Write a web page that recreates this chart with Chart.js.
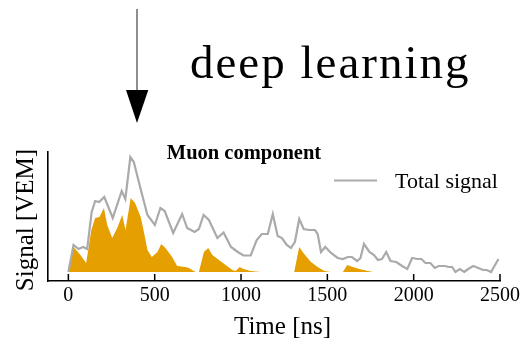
<!DOCTYPE html>
<html>
<head>
<meta charset="utf-8">
<script src="https://cdn.jsdelivr.net/npm/chart.js@4.4.0/dist/chart.umd.min.js"></script>
<style>
    html, body { margin: 0; padding: 0; background: #fff; }
    #wrap { width: 525px; height: 339px; }
</style>
</head>
<body>
<div id="wrap"><canvas id="trace" width="525" height="339"></canvas></div>
<script>

// total signal trace (grey line), time in ns
var totalTime = [0, 30, 59, 85, 109, 135, 155, 178, 208, 257,
    309, 330, 359, 379, 417, 458, 501, 533, 558, 607,
    659, 688, 731, 756, 783, 814, 863, 899, 942, 981,
    1014, 1056, 1091, 1120, 1155, 1184, 1212, 1237, 1265, 1289,
    1312, 1337, 1363, 1395, 1428, 1444, 1463, 1488, 1521, 1560,
    1590, 1619, 1642, 1673, 1692, 1712, 1744, 1770, 1793, 1816,
    1841, 1866, 1899, 1933, 1963, 1991, 2022, 2045, 2068, 2097,
    2122, 2145, 2180, 2203, 2223, 2242, 2267, 2293, 2316, 2345,
    2374, 2403, 2423, 2448, 2491];
var totalSignal = [0, 27, 23, 25, 23, 60, 71, 70, 75, 54,
    81, 73, 115, 110, 84, 57, 47, 64, 61, 39,
    58, 44, 40, 43, 57, 52, 34, 39.5, 25, 20,
    16.5, 16.5, 32, 38, 38, 58, 36, 34, 27, 24,
    30, 53, 43, 42, 42, 38, 20, 25, 19, 14,
    13, 15, 15, 11, 14, 28, 20, 17, 12, 13,
    20, 11, 10, 6, 3, 14, 13, 13, 9, 9,
    4, 6, 6, 5, 5, 0, 3, 0, 3, 6,
    4, 2, 2, 0, 13];

// muon component (orange area)
var muonTime = [0, 30, 70, 103, 133, 155, 180, 206, 225, 254,
    283, 312, 331, 361, 386, 419, 440, 458, 483, 516,
    538, 562, 601, 630, 678, 698, 737, 756, 785, 810,
    834, 872, 911, 950, 969, 992, 1014, 1056, 1115, 1308,
    1337, 1366, 1405, 1444, 1483, 1521, 1590, 1615, 1648, 1686,
    1735, 1765, 1830];
var muonSignal = [0, 25, 17, 9, 42, 54, 55, 64, 47, 34,
    44, 57, 42, 74, 69, 55, 38, 22, 15, 20,
    28, 24, 15, 6, 5, 4, 0, 0, 20, 24,
    17, 12, 7, 2, 1, 5, 3, 1, 0, 0,
    25, 18, 10, 5, 1, 0, 0, 7, 5, 3,
    1, 0, 0];

var tickValues = [0, 500, 1000, 1500, 2000, 2500];

var serif = '"Liberation Serif", "Times New Roman", serif';
var grey = '#aaaaaa';
var orange = '#e69f00';

function toPoints(xs, ys) {
    return xs.map(function (x, i) { return { x: x, y: ys[i] }; });
}

// texts, arrow and inward ticks
var overlay = {
    id: 'overlay',
    afterDraw: function (chart) {
        var ctx = chart.ctx;
        var xs = chart.scales.x;
        var area = chart.chartArea;
        ctx.save();

        // ticks pointing into the plot
        ctx.strokeStyle = '#000';
        ctx.lineWidth = 1.5;
        tickValues.forEach(function (v) {
            var px = xs.getPixelForValue(v);
            ctx.beginPath();
            ctx.moveTo(px, area.bottom);
            ctx.lineTo(px, area.bottom - 7);
            ctx.stroke();
        });

        // arrow
        ctx.strokeStyle = '#444';
        ctx.lineWidth = 1.2;
        ctx.beginPath();
        ctx.moveTo(137, 9);
        ctx.lineTo(137, 92);
        ctx.stroke();
        ctx.fillStyle = '#000';
        ctx.beginPath();
        ctx.moveTo(126, 90);
        ctx.lineTo(148.3, 90);
        ctx.lineTo(137, 123);
        ctx.closePath();
        ctx.fill();

        ctx.fillStyle = '#000';
        ctx.textBaseline = 'alphabetic';

        // headline
        ctx.font = '47px ' + serif;
        ctx.textAlign = 'left';
        if ('letterSpacing' in ctx) ctx.letterSpacing = '2px';
        ctx.fillText('deep learning', 190, 78);
        if ('letterSpacing' in ctx) ctx.letterSpacing = '0px';

        // title
        ctx.font = 'bold 20.5px ' + serif;
        ctx.textAlign = 'center';
        ctx.fillText('Muon component', 244, 159);

        // legend
        ctx.strokeStyle = grey;
        ctx.lineWidth = 2;
        ctx.beginPath();
        ctx.moveTo(334, 180.5);
        ctx.lineTo(377, 180.5);
        ctx.stroke();
        ctx.font = '22px ' + serif;
        ctx.textAlign = 'left';
        ctx.fillText('Total signal', 395, 188);

        // axis titles
        ctx.font = '25px ' + serif;
        ctx.textAlign = 'center';
        ctx.fillText('Time [ns]', 282.5, 334);
        ctx.translate(33, 220);
        ctx.rotate(-Math.PI / 2);
        ctx.fillText('Signal [VEM]', 0, 0);

        ctx.restore();
    }
};

var config = {
    type: 'line',
    data: {
        datasets: [{
            label: 'Total signal',
            data: toPoints(totalTime, totalSignal),
            borderColor: grey,
            borderWidth: 2.2,
            pointRadius: 0,
            fill: false,
            tension: 0
        }, {
            label: 'Muon component',
            data: toPoints(muonTime, muonSignal),
            borderWidth: 0,
            backgroundColor: orange,
            pointRadius: 0,
            fill: 'origin',
            tension: 0
        }]
    },
    options: {
        responsive: false,
        animation: false,
        events: [],
        layout: { padding: { top: 152, right: 25, left: 0, bottom: 0 } },
        plugins: {
            legend: { display: false },
            tooltip: { enabled: false },
            title: { display: false }
        },
        scales: {
            x: {
                type: 'linear',
                min: -118,
                max: 2500,
                afterBuildTicks: function (s) {
                    s.ticks = tickValues.map(function (v) { return { value: v }; });
                },
                afterFit: function (s) { s.height = 58; },
                grid: { drawOnChartArea: false, drawTicks: false },
                border: { display: true, color: '#000', width: 1.6 },
                ticks: {
                    font: { family: serif, size: 20 },
                    color: '#000',
                    padding: 3,
                    maxRotation: 0,
                    autoSkip: false,
                    callback: function (v) { return String(v); }
                }
            },
            y: {
                min: -9,
                max: 120,
                afterFit: function (s) { s.width = 48; },
                ticks: { display: false },
                grid: { drawOnChartArea: false, drawTicks: false },
                border: { display: true, color: '#000', width: 1.6 }
            }
        }
    },
    plugins: [overlay]
};

var myChart = new Chart(document.getElementById('trace'), config);

</script>
</body>
</html>
